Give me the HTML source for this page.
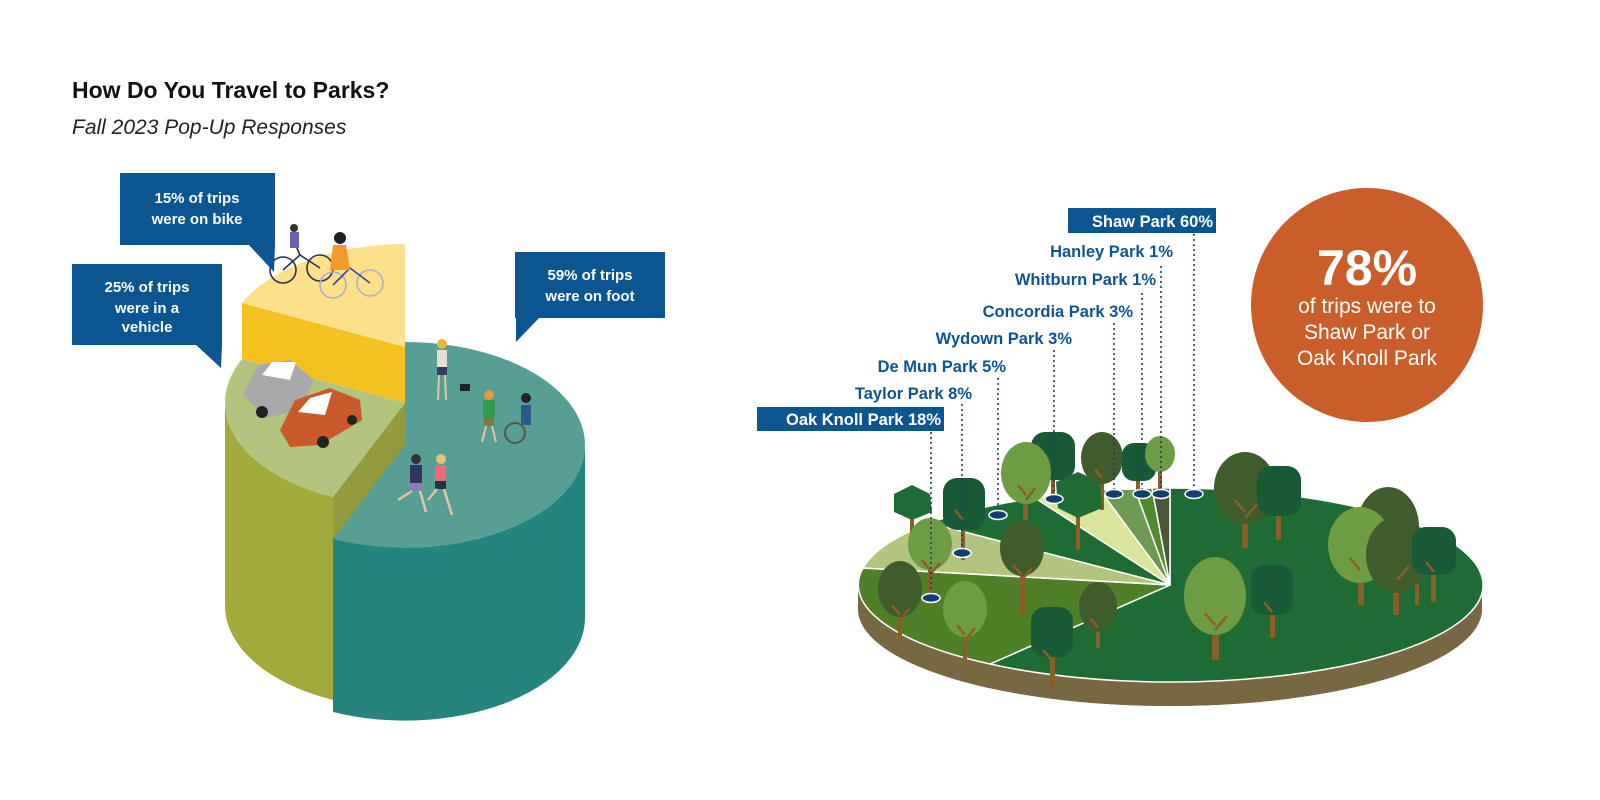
<!DOCTYPE html>
<html><head><meta charset="utf-8"><style>
html,body{margin:0;padding:0;background:#fff;}
svg{display:block;}
text{font-family:"Liberation Sans",Arial,sans-serif;}
</style></head><body>
<svg width="1600" height="800" viewBox="0 0 1600 800" xmlns="http://www.w3.org/2000/svg">
<rect width="1600" height="800" fill="#fff"/>
<text x="72" y="98" font-size="23" font-weight="bold" fill="#111">How Do You Travel to Parks?</text>
<text x="72" y="134" font-size="21" font-style="italic" fill="#222">Fall 2023 Pop-Up Responses</text>

<!-- LEFT PIE -->
<polygon points="242,303 405,347 405,403 242,359" fill="#f5c120"/>
<path d="M405,347 L242,303 A180,103 0 0 1 405,244 Z" fill="#fde08a"/>
<path d="M333,497 L333,700 A180,103 0 0 1 225,603 L225,403 A180,103 0 0 0 333,497 Z" fill="#a2aa3c"/>
<path d="M405,403 L333,497 A180,103 0 0 1 242,359 Z" fill="#b3c47f"/>
<polygon points="405,403 333,497 333,700 405,610" fill="#949a3e"/>
<path d="M585,445 L585,618 A180,103 0 0 1 333,712 L333,539 A180,103 0 0 0 585,445 Z" fill="#25857e"/>
<path d="M405,342 A180,103 0 0 1 585,445 A180,103 0 0 1 333,539 L405,445 Z" fill="#579e94"/>

<!-- bikes -->
<g fill="none" stroke="#2b2f55" stroke-width="1.6">
<circle cx="283" cy="270" r="13"/><circle cx="320" cy="268" r="13"/>
<path d="M283,270 L300,255 L320,268 M300,255 L296,246"/>
</g>
<g fill="none" stroke="#aab0cc" stroke-width="1.6">
<circle cx="333" cy="285" r="13"/><circle cx="370" cy="283" r="13"/>
</g>
<path d="M333,285 L350,268 L370,283" stroke="#3b3fa0" stroke-width="1.6" fill="none"/>
<rect x="290" y="232" width="9" height="16" fill="#6b62b5"/><circle cx="294" cy="228" r="4" fill="#333"/>
<path d="M333,245 L346,245 L350,270 L330,270 Z" fill="#f29a2e"/><circle cx="340" cy="238" r="6" fill="#222"/>
<!-- cars -->
<polygon points="243,395 258,365 290,360 314,380 300,410 265,418" fill="#a9a9a9"/>
<polygon points="262,375 272,362 296,362 290,380" fill="#fff"/>
<circle cx="262" cy="412" r="6" fill="#222"/><circle cx="300" cy="405" r="5" fill="#222"/>
<polygon points="280,430 295,400 330,388 360,400 362,420 320,445 290,447" fill="#c9592a"/>
<polygon points="298,412 310,398 332,392 325,415" fill="#fff"/>
<circle cx="323" cy="442" r="6" fill="#222"/><circle cx="352" cy="420" r="5" fill="#222"/>
<!-- people -->
<rect x="437" y="350" width="10" height="18" fill="#e8ddd3"/><rect x="437" y="367" width="10" height="8" fill="#333a66"/>
<path d="M439,375 L438,400 M445,375 L446,400" stroke="#e5c4a5" stroke-width="2"/><circle cx="442" cy="344" r="5" fill="#e8b53a"/>
<rect x="460" y="384" width="10" height="7" fill="#222"/>
<rect x="483" y="400" width="12" height="18" fill="#2f9a4a"/><rect x="484" y="418" width="10" height="8" fill="#7a7a45"/>
<path d="M486,426 L482,442 M492,426 L496,442" stroke="#e5c4a5" stroke-width="2"/><circle cx="489" cy="395" r="5" fill="#e89a3a"/>
<circle cx="515" cy="433" r="10" fill="none" stroke="#555" stroke-width="2"/>
<rect x="521" y="405" width="10" height="20" fill="#2a5a88"/><circle cx="526" cy="398" r="5" fill="#222"/>
<rect x="410" y="465" width="12" height="18" fill="#33335e"/><rect x="410" y="483" width="12" height="8" fill="#8a7ab8"/>
<path d="M412,491 L398,500 M420,491 L426,512" stroke="#e5c4a5" stroke-width="2.5" fill="none"/><circle cx="416" cy="459" r="5" fill="#333"/>
<rect x="435" y="465" width="11" height="16" fill="#ef6b77"/><rect x="435" y="481" width="11" height="8" fill="#223344"/>
<path d="M437,489 L428,500 M444,489 L452,515" stroke="#e5c4a5" stroke-width="2.5" fill="none"/><circle cx="441" cy="459" r="5" fill="#e6c27a"/>

<!-- bubbles -->
<g fill="#0b5590">
<rect x="120" y="173" width="155" height="72"/><polygon points="248,244 275,244 274,272"/>
<rect x="72" y="264" width="150" height="81"/><polygon points="195,344 222,344 221,368"/>
<rect x="515" y="252" width="150" height="66"/><polygon points="516,317 540,317 516,342"/>
</g>
<g fill="#fff" font-size="15" font-weight="bold" text-anchor="middle">
<text x="197" y="203">15% of trips</text><text x="197" y="224">were on bike</text>
<text x="147" y="292">25% of trips</text><text x="147" y="313">were in a</text><text x="147" y="332">vehicle</text>
<text x="590" y="280">59% of trips</text><text x="590" y="301">were on foot</text>
</g>

<!-- RIGHT DISK -->
<path d="M858,585 L858,609 A312,97 0 0 0 1482,609 L1482,585 Z" fill="#776843"/>
<ellipse cx="1170" cy="609" rx="312" ry="97" fill="#776843"/>
<g stroke="#fff" stroke-width="1.5" stroke-linejoin="round">
<path d="M1170,585 L1170,488 A312,97 0 1 1 990,664 Z" fill="#1e6b35"/>
<path d="M1170,585 L990,664 A312,97 0 0 1 863,568 Z" fill="#4f7f27"/>
<path d="M1170,585 L863,568 A312,97 0 0 1 930,523 Z" fill="#b3c47f"/>
<path d="M1170,585 L930,523 A312,97 0 0 1 1035,498 Z" fill="#1e6b35"/>
<path d="M1170,585 L1035,498 A312,97 0 0 1 1100,490 Z" fill="#d9e59b"/>
<path d="M1170,585 L1100,490 A312,97 0 0 1 1135,489 Z" fill="#6f9a55"/>
<path d="M1170,585 L1135,489 A312,97 0 0 1 1152,488 Z" fill="#4f8a2f"/>
<path d="M1170,585 L1152,488 A312,97 0 0 1 1170,488 Z" fill="#4a573b"/>
</g>

<!-- trees -->
<g>
<g fill="#8a5e2a">
<rect x="910" y="510" width="4" height="25"/><rect x="961" y="505" width="4" height="55"/>
<rect x="1051" y="460" width="4" height="40"/><rect x="1023" y="475" width="5" height="45"/>
<rect x="1076" y="500" width="4" height="50"/><rect x="1100" y="465" width="4" height="45"/>
<rect x="1136" y="465" width="4" height="30"/><rect x="1158" y="460" width="4" height="30"/>
<rect x="1242" y="490" width="6" height="58"/><rect x="1276" y="495" width="5" height="45"/>
<rect x="1388" y="530" width="5" height="60"/><rect x="1358" y="545" width="6" height="60"/>
<rect x="1393" y="555" width="6" height="60"/><rect x="1431" y="550" width="5" height="52"/><rect x="1415" y="560" width="4" height="45"/>
<rect x="928" y="545" width="4" height="55"/><rect x="1020" y="550" width="5" height="65"/>
<rect x="898" y="590" width="4" height="50"/><rect x="963" y="610" width="4" height="50"/>
<rect x="1050" y="630" width="5" height="60"/><rect x="1096" y="610" width="4" height="38"/>
<rect x="1212" y="598" width="7" height="62"/><rect x="1270" y="590" width="5" height="48"/>
</g>
<polygon points="912,485 930,494 932,512 912,520 894,512 894,494" fill="#1e6b35"/>
<rect x="943" y="478" width="42" height="52" rx="14" fill="#185a35"/>
<rect x="1031" y="432" width="44" height="48" rx="14" fill="#185a35"/>
<ellipse cx="1026" cy="473" rx="25" ry="31" fill="#6e9c43"/>
<polygon points="1078,472 1100,482 1102,508 1078,518 1058,508 1056,482" fill="#1e6b35"/>
<ellipse cx="1102" cy="458" rx="21" ry="26" fill="#3f5c2d"/>
<rect x="1122" y="443" width="34" height="38" rx="12" fill="#185a35"/>
<ellipse cx="1160" cy="454" rx="15" ry="18" fill="#6e9c43"/>
<ellipse cx="1245" cy="488" rx="31" ry="36" fill="#3f5c2d"/>
<rect x="1257" y="466" width="44" height="50" rx="14" fill="#185a35"/>
<ellipse cx="1388" cy="527" rx="31" ry="40" fill="#3f5c2d"/>
<ellipse cx="1360" cy="545" rx="32" ry="38" fill="#6e9c43"/>
<ellipse cx="1397" cy="555" rx="31" ry="38" fill="#3f5c2d"/>
<rect x="1412" y="527" width="44" height="48" rx="14" fill="#185a35"/>
<ellipse cx="930" cy="544" rx="22" ry="26" fill="#6e9c43"/>
<ellipse cx="1022" cy="548" rx="22" ry="28" fill="#3f5c2d"/>
<ellipse cx="900" cy="589" rx="22" ry="28" fill="#3f5c2d"/>
<ellipse cx="965" cy="609" rx="22" ry="28" fill="#6e9c43"/>
<rect x="1031" y="607" width="42" height="50" rx="14" fill="#185a35"/>
<ellipse cx="1098" cy="607" rx="19" ry="25" fill="#3f5c2d"/>
<ellipse cx="1215" cy="596" rx="31" ry="39" fill="#6e9c43"/>
<rect x="1251" y="565" width="42" height="50" rx="14" fill="#185a35"/>
<g stroke="#8a5e2a" stroke-width="2.5" fill="none">
<path d="M930,570 l-8,-10 M930,575 l10,-12 M1022,575 l-9,-10 M1022,580 l10,-12 M900,615 l-8,-10 M900,620 l9,-11 M965,635 l-8,-10 M965,640 l10,-12 M1052,660 l-9,-10 M1098,628 l-7,-9 M1215,625 l-10,-12 M1215,630 l12,-14 M1272,612 l-8,-10 M1245,512 l-10,-12 M1245,518 l12,-14 M1360,570 l-10,-12 M1397,580 l12,-14 M1434,572 l-8,-10 M1026,495 l-8,-10 M1026,500 l9,-12 M963,520 l-8,-10 M1102,478 l-7,-9"/>
</g>
</g>

<!-- dotted leaders -->
<g stroke="#1a3d6b" stroke-width="1.6" stroke-dasharray="2,3">
<line x1="931" y1="432" x2="931" y2="598"/>
<line x1="962" y1="404" x2="962" y2="553"/>
<line x1="998" y1="378" x2="998" y2="515"/>
<line x1="1054" y1="350" x2="1054" y2="499"/>
<line x1="1114" y1="323" x2="1114" y2="494"/>
<line x1="1142" y1="293" x2="1142" y2="494"/>
<line x1="1161" y1="266" x2="1161" y2="494"/>
<line x1="1194" y1="234" x2="1194" y2="494"/>
</g>
<g fill="#123e6e" stroke="#fff" stroke-width="1.5">
<ellipse cx="931" cy="598" rx="9" ry="4.5"/><ellipse cx="962" cy="553" rx="9" ry="4.5"/>
<ellipse cx="998" cy="515" rx="9" ry="4.5"/><ellipse cx="1054" cy="499" rx="9" ry="4.5"/>
<ellipse cx="1114" cy="494" rx="9" ry="4.5"/><ellipse cx="1142" cy="494" rx="9" ry="4.5"/>
<ellipse cx="1161" cy="494" rx="9" ry="4.5"/><ellipse cx="1194" cy="494" rx="9" ry="4.5"/>
</g>

<!-- labels -->
<rect x="1068" y="208" width="148" height="25" fill="#0b5590"/>
<rect x="757" y="407" width="187" height="24" fill="#0b5590"/>
<g font-size="16.5" font-weight="bold" text-anchor="end">
<text x="1213" y="227" fill="#fff">Shaw Park 60%</text>
<text x="1173" y="257" fill="#0b5590">Hanley Park 1%</text>
<text x="1156" y="285" fill="#0b5590">Whitburn Park 1%</text>
<text x="1133" y="317" fill="#0b5590">Concordia Park 3%</text>
<text x="1072" y="344" fill="#0b5590">Wydown Park 3%</text>
<text x="1006" y="372" fill="#0b5590">De Mun Park 5%</text>
<text x="972" y="399" fill="#0b5590">Taylor Park 8%</text>
<text x="941" y="425" fill="#fff">Oak Knoll Park 18%</text>
</g>

<!-- orange circle -->
<ellipse cx="1367" cy="305" rx="116" ry="117" fill="#c95e2b"/>
<text x="1367" y="285" font-size="50" font-weight="bold" fill="#fff" text-anchor="middle" font-family="Liberation Serif, serif">78%</text>
<g font-size="21" fill="#fff" text-anchor="middle">
<text x="1367" y="313">of trips were to</text>
<text x="1367" y="339">Shaw Park or</text>
<text x="1367" y="365">Oak Knoll Park</text>
</g>
</svg>
</body></html>
